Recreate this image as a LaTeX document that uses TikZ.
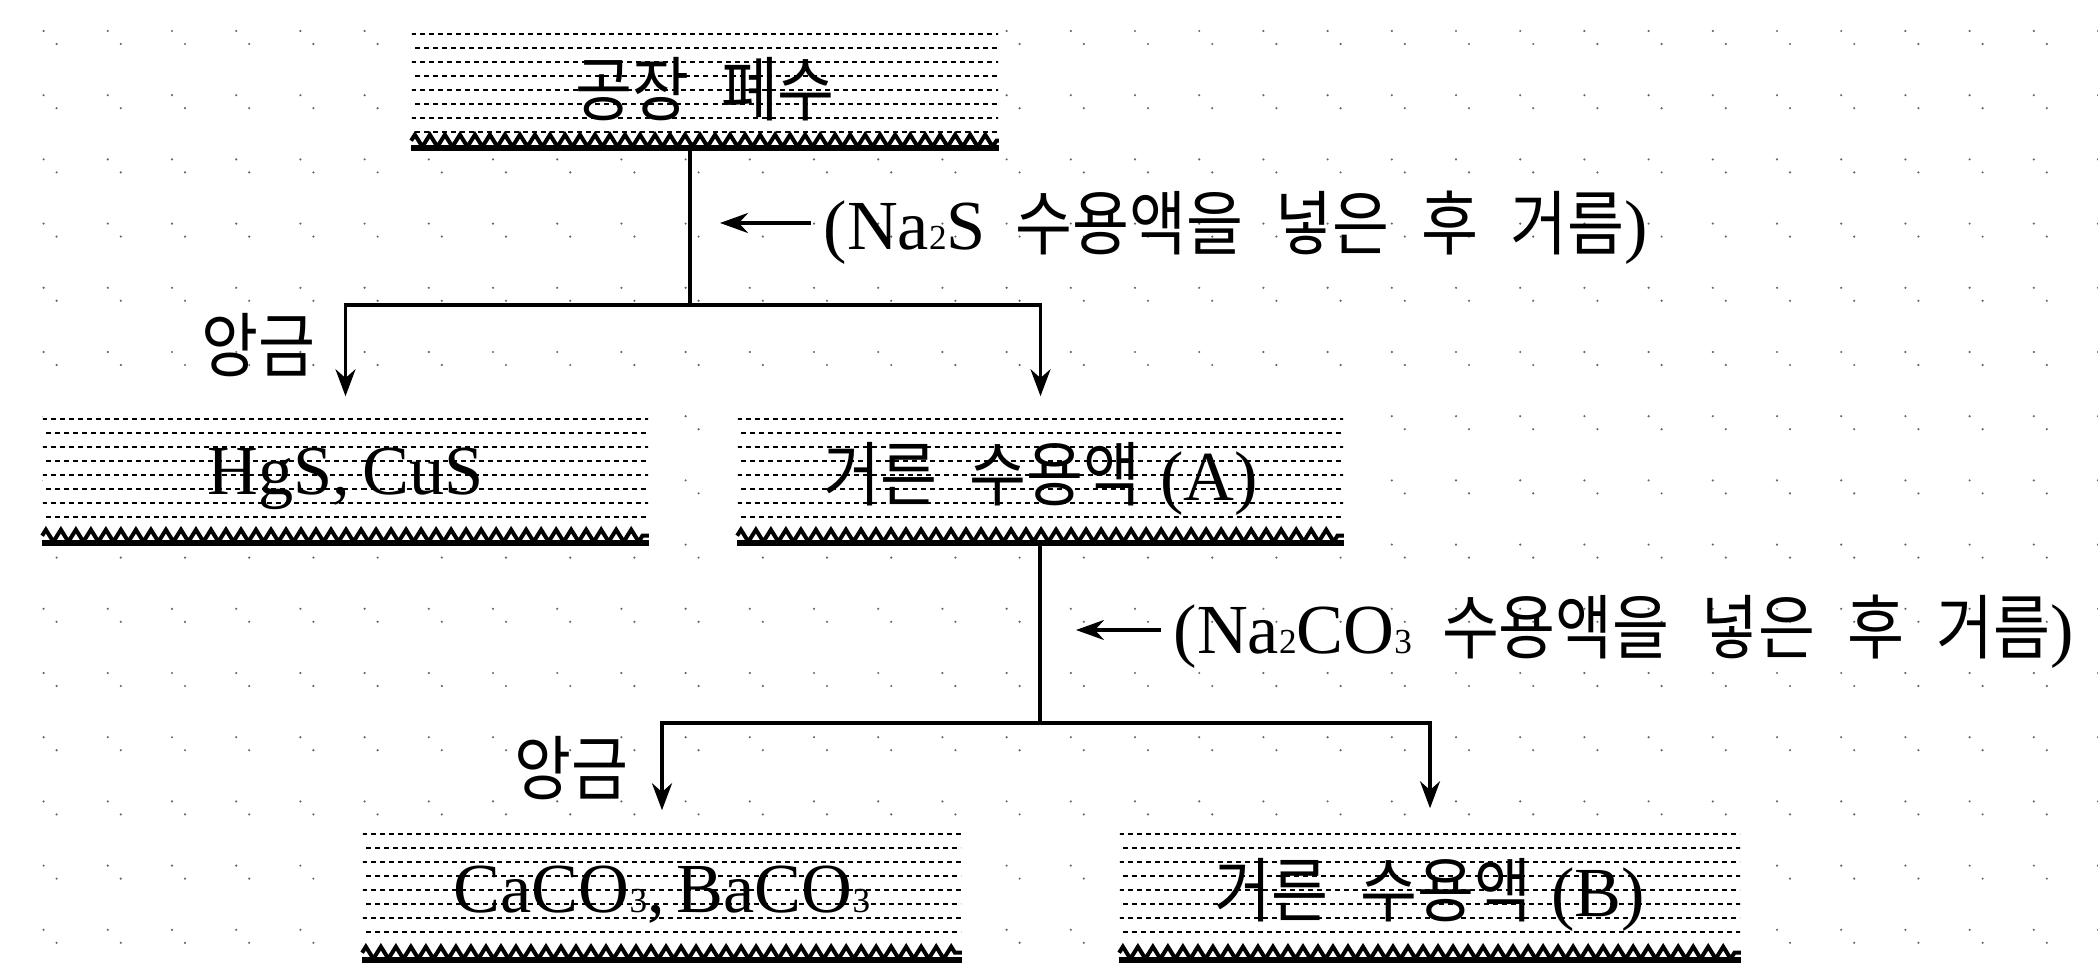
\documentclass[tikz,border=0pt]{standalone}
\usepackage{fontspec}
\setmainfont{Liberation Serif}
\newfontfamily\kr[FakeStretch=0.88]{Noto Sans CJK KR}
\usetikzlibrary{arrows.meta,calc,decorations.pathmorphing}
\newcommand\subx[1]{{\fontsize{10}{10}\selectfont #1}}
\newcommand\ks{\hspace{0.32cm}}
\begin{document}
\begin{tikzpicture}[x=0.01cm,y=-0.01cm,
  txt/.style={font=\fontsize{20}{24}\selectfont, inner sep=0pt},
  hatchbox/.style={draw=none, fill=white, inner sep=0pt, font=\fontsize{20}{24}\selectfont,
    path picture={
      \coordinate (pnw) at (path picture bounding box.north west);
      \coordinate (pse) at (path picture bounding box.south east);
      \foreach \k in {0,...,7}{
        \draw[line width=0.022cm, dash pattern=on 0.05cm off 0.04cm]
          ($(pnw)+({mod(\k,2)*0.045cm-0.1cm},{-0.06cm-\k*0.14cm})$) --
          ($(pnw -| pse)+(0.1cm,{-0.06cm-\k*0.14cm})$);
      }
    }},
  bandzig/.style={decorate, decoration={zigzag, segment length=0.15cm, amplitude=0.06cm}, line width=0.04cm},
  conn/.style={line width=0.035cm},
  tipd/.style={-{Stealth[length=0.27cm,width=0.2cm]}},
  tipl/.style={-{Stealth[length=0.28cm,width=0.2cm]}},
 ]
\useasboundingbox (0,0) rectangle (2098,964);
% background dot grid
\foreach \i in {0,...,32}{
  \foreach \j in {0,...,14}{
    \fill[black!60] ({43.6+64.2*\i},{31+64.2*\j}) circle (0.012cm);
    \fill[black!60] ({56.6+64.2*\i},{44+64.2*\j}) circle (0.012cm);
  }
}
% boxes
\node[hatchbox, minimum width=5.86cm, minimum height=1.22cm] (b1) at (705,89) {\kr 공장\ks 폐수};
\node[hatchbox, minimum width=6.05cm, minimum height=1.32cm] (hg) at (345.5,479) {HgS,\hspace{0.12cm}CuS};
\node[hatchbox, minimum width=6.05cm, minimum height=1.32cm] (a) at (1040.5,479) {{\kr 거른\ks 수용액}\hspace{0.2cm}(A)};
\node[hatchbox, minimum width=5.98cm, minimum height=1.34cm] (ca) at (662,895) {CaCO\subx{3},\hspace{0.12cm}BaCO\subx{3}};
\node[hatchbox, minimum width=6.20cm, minimum height=1.34cm] (b) at (1430,895) {{\kr 거른\ks 수용액}\hspace{0.2cm}(B)};
\foreach \n in {b1,hg,a,ca,b}{
  \draw[line width=0.06cm] ($(\n.south west)+(0cm,0.03cm)$) -- ($(\n.south east)+(0cm,0.03cm)$);
  \draw[bandzig] ($(\n.south west)+(0cm,0.1cm)$) -- ($(\n.south east)+(0cm,0.1cm)$);
}
% labels
\node[txt, anchor=west] (l1) at (823,228) {(Na\subx{2}S\hspace{0.3cm}{\kr 수용액을\ks 넣은\ks 후\ks 거름})};
\node[txt, anchor=west] (l2) at (1173,632) {(Na\subx{2}CO\subx{3}\hspace{0.3cm}{\kr 수용액을\ks 넣은\ks 후\ks 거름})};
\node[txt] (p1) at (258,345) {\kr 앙금};
\node[txt] (p2) at (571,768) {\kr 앙금};
% connectors
\coordinate (j1) at (690,305);
\coordinate (j2) at (1040,723);
\coordinate (t1) at (720,223);
\coordinate (t2) at (1076,630);
\draw[conn] (b1.south -| j1) -- (j1);
\draw[conn, tipd, shorten >=0.16cm] (j1) -| (hg.north);
\draw[conn, tipd, shorten >=0.16cm] (j1) -| (a.north);
\draw[conn] (a.south -| j2) -- (j2);
\draw[conn, tipd, shorten >=0.17cm] (j2) -| (ca.north);
\draw[conn, tipd, shorten >=0.19cm] (j2) -| (b.north);
\draw[conn, tipl, shorten <=0.12cm] (l1.west |- t1) -- (t1);
\draw[conn, tipl, shorten <=0.12cm] (l2.west |- t2) -- (t2);
\end{tikzpicture}
\end{document}
